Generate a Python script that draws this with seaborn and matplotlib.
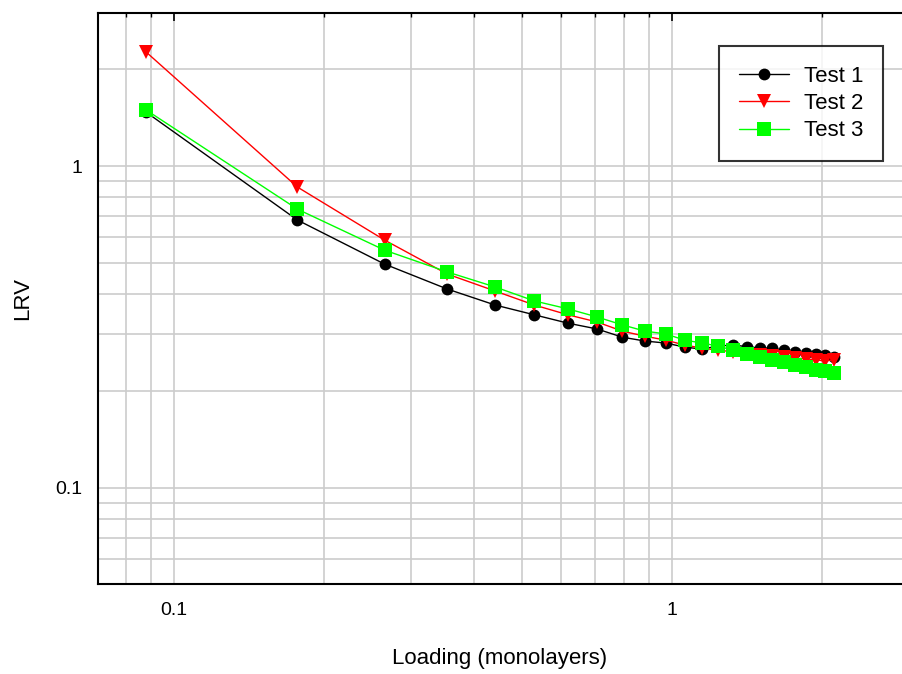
import matplotlib
matplotlib.use("Agg")
import matplotlib.pyplot as plt
import matplotlib.ticker as mticker
import seaborn as sns
import pandas as pd

loading = [0.088, 0.177, 0.265, 0.354, 0.442, 0.530, 0.619, 0.707, 0.796, 0.884,
           0.972, 1.061, 1.149, 1.238, 1.326, 1.414, 1.503, 1.591, 1.680, 1.768,
           1.857, 1.945, 2.033, 2.122]
test1 = [1.47, 0.68, 0.496, 0.415, 0.370, 0.345, 0.325, 0.312, 0.294, 0.286,
         0.282, 0.274, 0.270, 0.276, 0.278, 0.275, 0.272, 0.272, 0.268, 0.265,
         0.262, 0.260, 0.258, 0.256]
test2 = [2.26, 0.861, 0.589, 0.462, 0.409, 0.370, 0.345, 0.328, 0.307, 0.296,
         0.288, 0.278, 0.272, 0.268, 0.265, 0.261, 0.259, 0.257, 0.255, 0.253,
         0.252, 0.250, 0.248, 0.250]
test3 = [1.493, 0.735, 0.548, 0.469, 0.421, 0.381, 0.360, 0.340, 0.321, 0.307,
         0.301, 0.288, 0.282, 0.276, 0.268, 0.261, 0.255, 0.250, 0.246, 0.241,
         0.238, 0.233, 0.231, 0.228]
names = ["Test 1", "Test 2", "Test 3"]
colors = ["black", "red", "#00ff00"]
markers = ["o", "v", "s"]
msizes = [8.5, 9.5, 10]

sns.set_style("white")
plt.rcParams['font.family'] = ['Liberation Sans', 'DejaVu Sans']
plt.rcParams['text.color'] = 'black'
plt.rcParams['axes.labelcolor'] = 'black'
plt.rcParams['xtick.color'] = 'black'
plt.rcParams['ytick.color'] = 'black'

fig = plt.figure(figsize=(9.02, 6.74), dpi=100)
ax = fig.add_axes([98 / 902, 1 - 584 / 674, 1 - 98 / 902, (584 - 13) / 674])

for name, ys, c, m, ms in zip(names, [test1, test2, test3], colors, markers, msizes):
    df = pd.DataFrame({"Loading": loading, "LRV": ys})
    sns.lineplot(data=df, x="Loading", y="LRV", ax=ax, color=c, marker=m,
                 markersize=ms, markeredgewidth=0, linewidth=1.0, label=name)

ax.set_xscale("log")
ax.set_yscale("log")
ax.set_xlim(0.0704, 2.9)
ax.set_ylim(0.0503, 2.99)

for axis in (ax.xaxis, ax.yaxis):
    axis.set_major_locator(mticker.LogLocator(base=10))
    axis.set_minor_locator(mticker.LogLocator(base=10, subs=range(2, 10)))
    axis.set_major_formatter(mticker.FuncFormatter(lambda v, p: f"{v:g}"))
    axis.set_minor_formatter(mticker.NullFormatter())

ax.grid(True, which="both", color="#cccccc", linewidth=1.2)
ax.set_axisbelow(True)

for s in ["left", "bottom", "top"]:
    ax.spines[s].set_color("black")
    ax.spines[s].set_linewidth(1.5)
ax.spines["right"].set_visible(False)

ax.tick_params(which="both", direction="in", top=True, right=False, color="black")
ax.tick_params(which="major", length=6, width=1.2)
ax.tick_params(which="minor", length=3, width=1.0)
ax.tick_params(axis="x", which="major", labelsize=14, pad=13)
ax.tick_params(axis="y", which="major", labelsize=14, pad=11)

ax.set_xlabel("Loading (monolayers)", fontsize=16, labelpad=21)
ax.set_ylabel("LRV", fontsize=16, labelpad=16)

leg = ax.legend(loc="upper right", bbox_to_anchor=(785 / 804, 538 / 571),
                bbox_transform=ax.transAxes, fontsize=16, frameon=True, fancybox=False,
                handlelength=2.25, borderpad=0.9, labelspacing=0.28, handletextpad=0.65,
                borderaxespad=0)
leg.get_frame().set_edgecolor("black")
leg.get_frame().set_linewidth(1.5)

fig.savefig("out.png", dpi=100)
